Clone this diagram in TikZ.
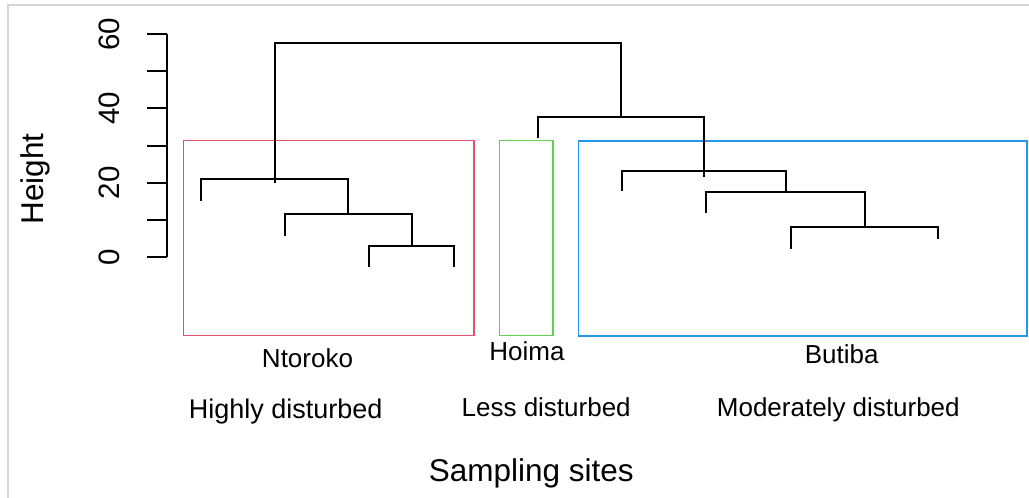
\documentclass[tikz,border=0pt]{standalone}
\usepackage{fontspec}
\setmainfont{Liberation Sans}
\definecolor{rred}{HTML}{DF536B}
\definecolor{rgreen}{HTML}{61D04F}
\definecolor{rblue}{HTML}{2297E6}
\definecolor{framegray}{HTML}{D6D6D6}
\tikzset{
  dendro/.style={line width=2pt, black},
  clusterbox/.style={line width=1.9pt},
  axisline/.style={line width=2pt, black},
  lbl/.style={inner sep=0pt, anchor=base, font=\fontsize{26}{30}\selectfont},
  ticklbl/.style={inner sep=0pt, anchor=base, rotate=90, font=\fontsize{29.5}{33}\selectfont},
  axtitle/.style={inner sep=0pt, anchor=base, font=\fontsize{31.5}{35}\selectfont},
}
\begin{document}
\begin{tikzpicture}[x=1pt,y=-1pt]
\useasboundingbox (0,0) rectangle (1029,498);
\fill[white] (0,0) rectangle (1029,498);
% frame
\draw[framegray, line width=2pt] (8,498) -- (8,5) -- (1029,5);
% y axis
\coordinate (ax0) at (167,257);
\coordinate (ax60) at (167,34);
\draw[axisline] (ax0) -- (ax60);
\foreach \v in {0,10,...,60} {
  \draw[axisline] (167,{257-\v*223/60}) -- (147,{257-\v*223/60});
}
\foreach \v in {0,20,40,60} {
  \node[ticklbl] (tick\v) at (119.5,{257-\v*223/60}) {\v};
}
\node[axtitle, rotate=90] (ytitle) at (43.8,179.2) {Height};
% cluster boxes
\draw[clusterbox, rred] (183.5,140.5) rectangle (474,335.5);
\draw[clusterbox, rgreen] (499.5,140.5) rectangle (553.3,335.5);
\draw[clusterbox, rblue] (578.5,140.7) rectangle (1026.7,335.7);
% leaves
\coordinate (N1) at (201,200.7);
\coordinate (N2) at (285,235.7);
\coordinate (N3) at (369.3,266.7);
\coordinate (N4) at (454,266.7);
\coordinate (H1) at (538,138.3);
\coordinate (B1) at (622,191);
\coordinate (B2) at (706,213.3);
\coordinate (B3) at (790.7,248.7);
\coordinate (B4) at (938.3,239.3);
% merges
\coordinate (mN34) at (411.7,245.7);
\coordinate (mN2) at (348.3,214);
\coordinate (mN1) at (275,179.3);
\coordinate (mN1b) at (275,183.3);
\coordinate (mB34) at (864.5,226.7);
\coordinate (mB2) at (785.7,191.7);
\coordinate (mB1) at (704,170.7);
\coordinate (mB1b) at (704,177.3);
\coordinate (mHB) at (621.3,116.7);
\coordinate (mTop) at (448,43.3);
% dendrogram
\draw[dendro] (N3) |- (mN34) -| (N4);
\draw[dendro] (N2) |- (mN2) -| (mN34);
\draw[dendro] (N1) |- (mN1) -| (mN2);
\draw[dendro] (B3) |- (mB34) -| (B4);
\draw[dendro] (B2) |- (mB2) -| (mB34);
\draw[dendro] (B1) |- (mB1) -| (mB2);
\draw[dendro] (H1) |- (mHB) -| (mB1b);
\draw[dendro] (mN1b) |- (mTop) -| (mHB);
% labels
\node[lbl] (ntoroko) at (307.5,367.3) {Ntoroko};
\node[lbl] (hoima) at (527,360.7) {Hoima};
\node[lbl] (butiba) at (841.7,363.3) {Butiba};
\node[lbl, font=\fontsize{27}{31}\selectfont] (high) at (285.7,418.3) {Highly disturbed};
\node[lbl] (less) at (546.2,416.7) {Less disturbed};
\node[lbl] (mod) at (838.3,416.7) {Moderately disturbed};
\node[axtitle] (xtitle) at (531.3,481.7) {Sampling sites};
\end{tikzpicture}
\end{document}
